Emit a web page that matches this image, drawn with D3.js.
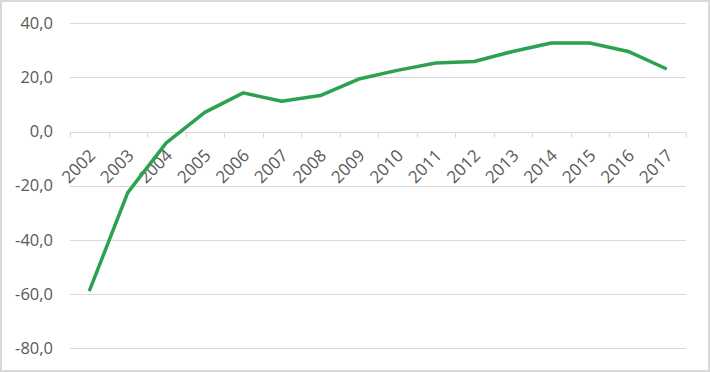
<!DOCTYPE html>
<html>
<head>
<meta charset="utf-8">
<script src="https://cdn.jsdelivr.net/npm/d3@7"></script>
<style>
  body { margin: 0; background: #fff; }
  text { font-family: "Open Sans", "Liberation Sans", sans-serif; fill: #595959; }
</style>
</head>
<body>
<svg id="chart" width="710" height="372"></svg>
<script>
// data
const years = ["2002", "2003", "2004", "2005", "2006", "2007", "2008", "2009",
  "2010", "2011", "2012", "2013", "2014", "2015", "2016", "2017"]
const values = [-59.0, -22.6, -4.2, 7.1, 14.3, 11.2, 13.3, 19.4,
  22.6, 25.3, 25.9, 29.6, 32.7, 32.7, 29.6, 23.1]
const yTicks = [40, 20, 0, -20, -40, -60, -80]

const svg = d3.select("#chart")

// outer frame
svg.append("rect")
  .attr("x", 1).attr("y", 1)
  .attr("width", 708).attr("height", 370)
  .attr("fill", "#fff")
  .attr("stroke", "#d9d9d9")
  .attr("stroke-width", 2)

const plotLeft = 70, plotRight = 686, plotTop = 23.3, plotBottom = 348

const x = d3.scaleBand().domain(years).range([plotLeft, plotRight])
const y = d3.scaleLinear().domain([-80, 40]).range([plotBottom, plotTop])

// gridlines
svg.append("g")
  .selectAll("line")
  .data(yTicks)
  .enter()
  .append("line")
  .attr("x1", plotLeft).attr("x2", plotRight)
  .attr("y1", d => Math.round(y(d)) + 0.5)
  .attr("y2", d => Math.round(y(d)) + 0.5)
  .attr("stroke", "#d9d9d9")
  .attr("stroke-width", 1)

// y labels
const fmt = d => d3.format(".1f")(d).replace(".", ",").replace("−", "-")
svg.append("g")
  .selectAll("text")
  .data(yTicks)
  .enter()
  .append("text")
  .attr("x", 53)
  .attr("y", d => y(d))
  .attr("dy", "0.35em")
  .attr("text-anchor", "end")
  .style("font-size", "16.5px")
  .text(fmt)

// category axis on the zero line
const zeroY = Math.round(y(0)) + 0.5
const axisG = svg.append("g")
axisG.append("line")
  .attr("x1", plotLeft).attr("x2", plotRight)
  .attr("y1", zeroY).attr("y2", zeroY)
  .attr("stroke", "#d9d9d9")
const tickPos = years.map(d => x(d)).concat([plotRight])
axisG.selectAll(".tick")
  .data(tickPos)
  .enter()
  .append("line")
  .attr("x1", d => Math.round(d) + 0.5)
  .attr("x2", d => Math.round(d) + 0.5)
  .attr("y1", zeroY).attr("y2", zeroY + 5)
  .attr("stroke", "#d9d9d9")

axisG.selectAll(".yr")
  .data(years)
  .enter()
  .append("text")
  .attr("transform", d => "translate(" + (x(d) + x.bandwidth() / 2 + 3) + "," + (zeroY + 20) + ") rotate(-45)")
  .attr("text-anchor", "end")
  .attr("dy", "0.35em")
  .style("font-size", "17px")
  .text(d => d)

// the line
const line = d3.line()
  .x((d, i) => x(years[i]) + x.bandwidth() / 2)
  .y(d => y(d))

svg.append("path")
  .datum(values)
  .attr("d", line)
  .attr("fill", "none")
  .attr("stroke", "#2ca24f")
  .attr("stroke-width", 3.5)
  .attr("stroke-linejoin", "round")
</script>
</body>
</html>
